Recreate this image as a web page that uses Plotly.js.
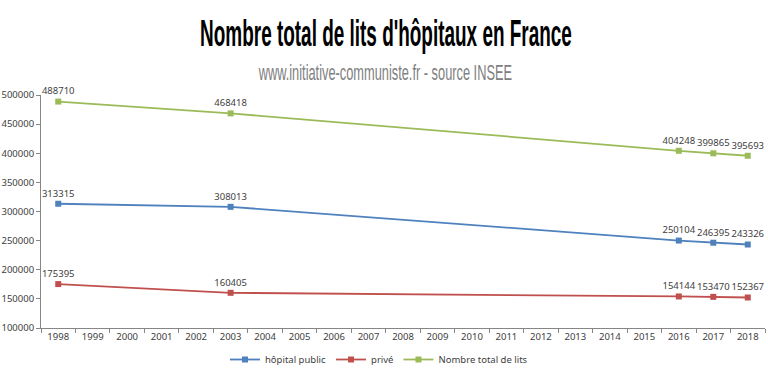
<!DOCTYPE html>
<html>
<head>
<meta charset="utf-8">
<script src="https://cdn.plot.ly/plotly-3.0.1.min.js"></script>
<style>
html,body{margin:0;padding:0;background:#fff;}
#chart{width:768px;height:369px;}
</style>
</head>
<body>
<div id="chart"></div>
<script>
const years = ['1998','1999','2000','2001','2002','2003','2004','2005','2006','2007','2008','2009','2010','2011','2012','2013','2014','2015','2016','2017','2018'];
const dataYears = ['1998','2003','2016','2017','2018'];
const hopitalPublic = [313315, 308013, 250104, 246395, 243326];
const prive = [175395, 160405, 154144, 153470, 152367];
const total = [488710, 468418, 404248, 399865, 395693];
const seriesNames = ['hôpital public', 'privé', 'Nombre total de lits'];
const colors = ['#4F81BD', '#C0504D', '#9BBB59'];
const yTicks = [100000,150000,200000,250000,300000,350000,400000,450000,500000];

const series = [hopitalPublic, prive, total];
const traces = series.map((vals, i) => ({
  type: 'scatter',
  mode: 'lines+markers+text',
  name: seriesNames[i],
  x: dataYears,
  y: vals,
  text: vals.map(v => String(v)),
  textposition: 'top center',
  textfont: {family: 'Noto Sans, sans-serif', size: 9.5, color: '#404040'},
  line: {color: colors[i], width: 1.8},
  marker: {color: colors[i], symbol: 'square', size: 6},
  cliponaxis: false,
  hoverinfo: 'x+y'
}));

const layout = {
  width: 768, height: 369,
  margin: {l: 41, r: 3, t: 95, b: 41},
  paper_bgcolor: '#fff', plot_bgcolor: '#fff',
  showlegend: true,
  title: {
    text: "Nombre total de lits d'hôpitaux en France",
    font: {family: 'Liberation Sans Narrow, Liberation Sans, sans-serif', size: 37, color: '#000', weight: 'bold'},
    xref: 'container', yref: 'container',
    x: 386/768, xanchor: 'center',
    y: 1 - 33/369, yanchor: 'middle'
  },
  annotations: [{
    text: 'www.initiative-communiste.fr - source INSEE',
    xref: 'paper', yref: 'paper',
    x: (385-41)/724, xanchor: 'center',
    y: 1 + (95-72)/233, yanchor: 'middle',
    showarrow: false,
    font: {family: 'Liberation Sans Narrow, Liberation Sans, sans-serif', size: 22, color: '#808080'}
  }],
  xaxis: {
    type: 'category',
    categoryorder: 'array',
    categoryarray: years,
    tickvals: years,
    range: [-0.5, 20.5],
    tickson: 'boundaries',
    ticks: 'outside', ticklen: 4, tickcolor: '#868686',
    showline: true, linecolor: '#868686', linewidth: 1,
    showgrid: false, zeroline: false,
    tickfont: {family: 'Noto Sans, sans-serif', size: 9.5, color: '#404040'},
    fixedrange: true
  },
  yaxis: {
    range: [100000, 500000],
    tickvals: yTicks,
    ticktext: yTicks.map(v => String(v)),
    ticks: 'outside', ticklen: 4, tickcolor: '#868686',
    showline: true, linecolor: '#868686', linewidth: 1,
    showgrid: false, zeroline: false,
    tickfont: {family: 'Noto Sans, sans-serif', size: 9.5, color: '#404040'},
    fixedrange: true
  },
  legend: {
    orientation: 'h',
    x: (379-41)/724, xanchor: 'center',
    xref: 'paper',
    y: 0, yref: 'container', yanchor: 'bottom',
    font: {family: 'Noto Sans, sans-serif', size: 9.5, color: '#404040'},
    itemwidth: 30,
    tracegroupgap: 0
  }
};

Plotly.newPlot('chart', traces, layout, {displayModeBar: false, staticPlot: true}).then(() => {
  function squeeze(el, targetW) {
    if (!el) return;
    const w = el.getBBox().width;
    if (w > 0) {
      el.style.transformBox = 'fill-box';
      el.style.transformOrigin = 'center';
      el.style.transform = 'scaleX(' + (targetW / w) + ')';
    }
  }
  squeeze(document.querySelector('.gtitle'), 372);
  squeeze(document.querySelector('.annotation-text'), 254);
  // nudge legend down to the reference position
  const lg = document.querySelector('g.legend');
  if (lg) {
    const t = lg.getAttribute('transform') || '';
    const m = t.match(/translate\(\s*([-\d.]+)[ ,]+([-\d.]+)\s*\)/);
    if (m) lg.setAttribute('transform', 'translate(' + m[1] + ',' + (parseFloat(m[2]) + 5) + ')');
  }
});
</script>
</body>
</html>
